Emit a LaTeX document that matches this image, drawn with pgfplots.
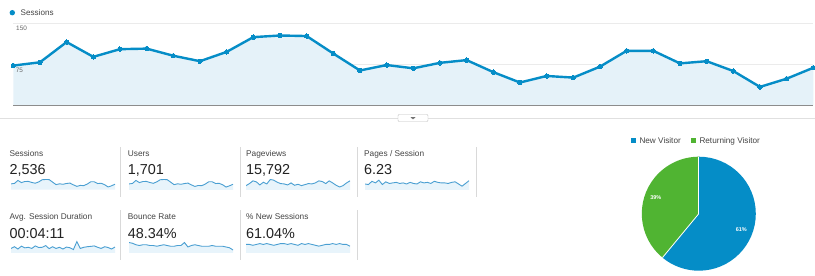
\documentclass[border=0pt]{standalone}
\usepackage{fontspec}
\setmainfont{Liberation Sans}
\usepackage{pgfplots}
\usepackage{pgfplotstable}
\pgfplotsset{compat=1.18}
\definecolor{gablue}{HTML}{058DC7}
\definecolor{gafill}{HTML}{E5F2F9}
\definecolor{gagreen}{HTML}{50B432}
\definecolor{sparkline}{HTML}{4A9FD2}
\definecolor{sparkfill}{HTML}{E8F4FB}
\definecolor{labelgray}{HTML}{444444}
\definecolor{valgray}{HTML}{222222}

\pgfplotstableread{
day sessions users pageviews pps dur bounce newpct
0  73  49 420 6.0 240 52 61
1  79  53 480 5.9 255 51 61
2  116 78 560 6.5 235 49 60.5
3  89  60 530 6.2 260 48 61
4  103 69 440 6.7 245 49 61.5
5  104 70 520 5.9 250 49 61
6  91  61 470 6.4 240 48 61.5
7  81  54 600 6.1 262 48 61
8  98  66 580 6.2 248 47 60.5
9  125 84 520 6.3 250 48 61
10 128 86 480 6.1 265 49 61.5
11 127 85 470 6.2 238 48 61.5
12 95  64 440 6.0 255 47 61
13 64  43 500 6.3 240 47 61.5
14 74  50 430 6.1 250 48 61
15 68  46 460 6.0 235 48 60.5
16 78  52 420 6.4 252 52 61.5
17 83  56 450 6.2 246 46 61
18 61  41 480 6.3 230 48 61.5
19 42  28 470 6.1 300 49 61
20 54  36 500 6.5 240 48 60.5
21 51  34 560 6.3 250 47 60
22 71  48 540 6.2 255 47 60.5
23 100 67 480 6.2 258 47 61
24 100 67 560 6.1 262 48 61
25 77  52 500 6.3 250 47 61.5
26 81  54 430 6.4 240 47 61
27 63  42 380 6.0 255 47 61.5
28 34  23 420 5.6 248 46 61
29 49  33 500 6.1 235 45 61
30 69  46 560 6.6 252 42 60
}\gadata

\pgfplotsset{
  spark/.style={scale only axis, anchor=south west, width=104pt, height=12pt,
    hide axis, xmin=0, xmax=30},
}
\newcommand{\lbl}{\fontsize{8.3}{10}\selectfont\color{labelgray}}
\newcommand{\val}{\fontsize{14.4}{16}\selectfont\color{valgray}}

\begin{document}
\begin{tikzpicture}[x=1pt,y=1pt]
\useasboundingbox (0,0) rectangle (815,276);
\fill[white] (0,0) rectangle (815,276);

% top legend
\fill[gablue] (12.3,263.3) circle (2.7);
\node[anchor=base west, inner sep=0] at (20.5,260.3) {\fontsize{8.1}{10}\selectfont\color{labelgray}Sessions};

% main chart
\begin{axis}[at={(13.3pt,170.5pt)}, anchor=south west, scale only axis,
  width=800pt, height=87.5pt, xmin=0, xmax=30, ymin=0, ymax=160, clip=false,
  axis line style={draw=none}, tick style={draw=none},
  xtick=\empty, ytick={75,150}, yticklabels={},
  ymajorgrids, grid style={draw=black!8, line width=0.6pt}]
\addplot[fill=gafill, draw=none] table[x=day,y=sessions]{\gadata} \closedcycle;
\draw[black!45, line width=1.2pt] (axis cs:0,0) -- (axis cs:30,0);
\addplot[gablue, line width=2.4pt, mark=*, mark size=2.2pt,
  mark options={fill=gablue, line width=0pt}] table[x=day,y=sessions]{\gadata};
\end{axis}
\node[anchor=base west, inner sep=0] at (16,245) {\fontsize{6.4}{8}\selectfont\color{black!60}150};
\node[anchor=base west, inner sep=0] at (15.7,203.7) {\fontsize{6.4}{8}\selectfont\color{black!60}75};

% drag bar
\draw[black!12, line width=0.8pt] (0,158) -- (815,158);
\draw[black!25, fill=white, rounded corners=1pt] (398,154.5) rectangle (428,161.5);
\fill[black!55] (410.5,158.8) -- (415.5,158.8) -- (413,156.6) -- cycle;

% separators
\foreach \xx in {120.7,240.5,357,476.7} \draw[black!15, line width=0.8pt] (\xx,79.3) -- (\xx,129.3);
\foreach \xx in {120.7,240.5,357} \draw[black!15, line width=0.8pt] (\xx,16.3) -- (\xx,66.3);

% labels and values row 1
\node[anchor=base west, inner sep=0] at (9.3,119.5) {\lbl Sessions};
\node[anchor=base west, inner sep=0] at (9.3,101) {\val 2,536};
\node[anchor=base west, inner sep=0] at (127.7,119.5) {\lbl Users};
\node[anchor=base west, inner sep=0] at (127.7,101) {\val 1,701};
\node[anchor=base west, inner sep=0] at (246,119.5) {\lbl Pageviews};
\node[anchor=base west, inner sep=0] at (246,101) {\val 15,792};
\node[anchor=base west, inner sep=0] at (364,119.5) {\lbl Pages / Session};
\node[anchor=base west, inner sep=0] at (364,101) {\val 6.23};
% row 2
\node[anchor=base west, inner sep=0] at (9.3,56.3) {\lbl Avg. Session Duration};
\node[anchor=base west, inner sep=0] at (9.3,37.8) {\val 00:04:11};
\node[anchor=base west, inner sep=0] at (127.7,56.3) {\lbl Bounce Rate};
\node[anchor=base west, inner sep=0] at (127.7,37.8) {\val 48.34\%};
\node[anchor=base west, inner sep=0] at (246,56.3) {\lbl \% New Sessions};
\node[anchor=base west, inner sep=0] at (246,37.8) {\val 61.04\%};

% sparklines row 1
\begin{axis}[spark, at={(11pt,86pt)}, ymin=-3.6, ymax=146.8]
\addplot[fill=sparkfill, draw=none] table[x=day,y=sessions]{\gadata} \closedcycle;
\addplot[sparkline, line width=0.9pt, no marks] table[x=day,y=sessions]{\gadata};
\end{axis}
\begin{axis}[spark, at={(129pt,86pt)}, ymin=-2, ymax=98.6]
\addplot[fill=sparkfill, draw=none] table[x=day,y=users]{\gadata} \closedcycle;
\addplot[sparkline, line width=0.9pt, no marks] table[x=day,y=users]{\gadata};
\end{axis}
\begin{axis}[spark, at={(246pt,86pt)}, ymin=292, ymax=644]
\addplot[fill=sparkfill, draw=none] table[x=day,y=pageviews]{\gadata} \closedcycle;
\addplot[sparkline, line width=0.9pt, no marks] table[x=day,y=pageviews]{\gadata};
\end{axis}
\begin{axis}[spark, at={(365pt,86pt)}, ymin=4.9, ymax=7.1]
\addplot[fill=sparkfill, draw=none] table[x=day,y=pps]{\gadata} \closedcycle;
\addplot[sparkline, line width=0.9pt, no marks] table[x=day,y=pps]{\gadata};
\end{axis}
% sparklines row 2
\begin{axis}[spark, at={(11pt,23pt)}, ymin=200, ymax=305]
\addplot[fill=sparkfill, draw=none] table[x=day,y=dur]{\gadata} \closedcycle;
\addplot[sparkline, line width=0.9pt, no marks] table[x=day,y=dur]{\gadata};
\end{axis}
\begin{axis}[spark, at={(129pt,23pt)}, ymin=38, ymax=54]
\addplot[fill=sparkfill, draw=none] table[x=day,y=bounce]{\gadata} \closedcycle;
\addplot[sparkline, line width=0.9pt, no marks] table[x=day,y=bounce]{\gadata};
\end{axis}
\begin{axis}[spark, at={(246pt,23pt)}, ymin=56, ymax=63]
\addplot[fill=sparkfill, draw=none] table[x=day,y=newpct]{\gadata} \closedcycle;
\addplot[sparkline, line width=0.9pt, no marks] table[x=day,y=newpct]{\gadata};
\end{axis}

% pie legend
\fill[gablue] (630.5,132.5) rectangle (636,138);
\node[anchor=base west, inner sep=0] at (639.3,132.3) {\fontsize{8.2}{10}\selectfont\color{labelgray}New Visitor};
\fill[gagreen] (690.7,132.5) rectangle (696.2,138);
\node[anchor=base west, inner sep=0] at (699.3,132.3) {\fontsize{8.2}{10}\selectfont\color{labelgray}Returning Visitor};

% pie
\def\newv{61}
\pgfmathsetmacro\angEnd{90-3.6*\newv}
\coordinate (pc) at (698.8,62.3);
\fill[gablue] (pc) -- ++(90:57) arc[start angle=90, end angle=\angEnd, radius=57] -- cycle;
\fill[gagreen] (pc) -- ++(\angEnd:57) arc[start angle=\angEnd, end angle=-270, radius=57] -- cycle;
\draw[white, line width=0.8pt] (pc) -- ++(90:57);
\draw[white, line width=0.8pt] (pc) -- ++(\angEnd:57);
\node[inner sep=0, white] at (655.8,78.3) {\fontsize{5.5}{6}\selectfont\bfseries 39\%};
\node[inner sep=0, white] at (741.3,46.7) {\fontsize{5.5}{6}\selectfont\bfseries 61\%};
\end{tikzpicture}
\end{document}
